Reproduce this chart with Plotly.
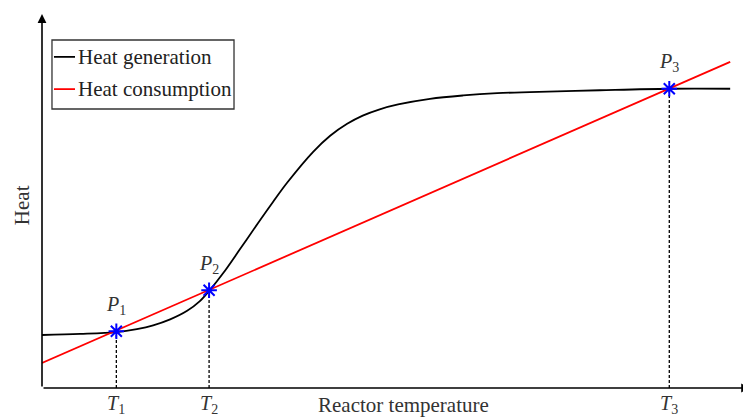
import plotly.graph_objects as go

# Heat generation curve (sigmoid-like)
gen_T = [0.00, 0.54, 1.05, 1.34, 1.57, 1.81, 2.05, 2.23, 2.36, 2.56, 2.80, 3.04,
         3.26, 3.47, 3.83, 4.07, 4.31, 4.53, 4.77, 5.03, 5.48, 5.95, 6.43, 6.89,
         7.88, 8.86, 9.72]
gen_Q = [1.42, 1.45, 1.50, 1.58, 1.68, 1.84, 2.07, 2.33, 2.60, 3.08, 3.73, 4.39,
         4.98, 5.52, 6.33, 6.76, 7.08, 7.30, 7.47, 7.60, 7.75, 7.84, 7.90, 7.93,
         7.98, 8.02, 8.02]

# Heat consumption (straight line)
con_T = [0.00, 9.72]
con_Q = [0.67, 8.74]

# Operating points
pt_T = [1.05, 2.36, 8.86]
pt_Q = [1.52, 2.62, 8.02]
pt_labels = ["<i>P</i><sub>1</sub>", "<i>P</i><sub>2</sub>", "<i>P</i><sub>3</sub>"]
t_labels = ["<i>T</i><sub>1</sub>", "<i>T</i><sub>2</sub>", "<i>T</i><sub>3</sub>"]

FONT = "Liberation Serif"
TXT = "#333333"

fig = go.Figure()

# dashed drop lines
for t, q in zip(pt_T, pt_Q):
    fig.add_trace(go.Scatter(x=[t, t], y=[0, q], mode="lines",
                             line=dict(color="black", width=1.3, dash="3px,2px"),
                             showlegend=False, hoverinfo="skip"))

fig.add_trace(go.Scatter(x=gen_T, y=gen_Q, mode="lines", name="Heat generation",
                         line=dict(color="black", width=1.8, shape="spline", smoothing=1.0),
                         showlegend=False))
fig.add_trace(go.Scatter(x=con_T, y=con_Q, mode="lines", name="Heat consumption",
                         line=dict(color="#ff0000", width=1.8), showlegend=False))
fig.add_trace(go.Scatter(x=pt_T, y=pt_Q, mode="markers",
                         marker=dict(symbol="asterisk-open", size=13, color="#0000ff",
                                     line=dict(color="#0000ff", width=2)),
                         showlegend=False))

annotations = []
# point labels
for t, q, lab in zip(pt_T, pt_Q, pt_labels):
    annotations.append(dict(x=t, y=q, xref="x", yref="y", text=lab, showarrow=False,
                            yshift=26, xanchor="center",
                            font=dict(family=FONT, size=20, color=TXT)))
# T labels
for t, lab in zip(pt_T, t_labels):
    annotations.append(dict(x=t, y=-0.045, xref="x", yref="paper", text=lab,
                            showarrow=False, yanchor="middle", xanchor="center",
                            font=dict(family=FONT, size=20, color=TXT)))
annotations.append(dict(x=0.51, y=-0.045, xref="paper", yref="paper",
                        text="Reactor temperature", showarrow=False, yanchor="middle",
                        xanchor="center", font=dict(family=FONT, size=21, color=TXT)))
annotations.append(dict(x=-0.028, y=0.488, xref="paper", yref="paper", text="Heat",
                        textangle=-90, showarrow=False, xanchor="center", yanchor="middle",
                        font=dict(family=FONT, size=21, color=TXT)))
# axis arrows
annotations.append(dict(x=10.0, y=0, ax=0, ay=0, xref="x", yref="y", axref="x", ayref="y",
                        showarrow=True, arrowhead=2, arrowsize=1.1, arrowwidth=1.6,
                        arrowcolor="black", text=""))
annotations.append(dict(x=0, y=10.02, ax=0, ay=0, xref="x", yref="y", axref="x", ayref="y",
                        showarrow=True, arrowhead=2, arrowsize=1.1, arrowwidth=1.6,
                        arrowcolor="black", text=""))

# manual legend
annotations.append(dict(x=0.048, y=0.883, xref="paper", yref="paper", text="Heat generation",
                        showarrow=False, xanchor="left", yanchor="middle",
                        font=dict(family=FONT, size=21, color="#222")))
annotations.append(dict(x=0.048, y=0.797, xref="paper", yref="paper", text="Heat consumption",
                        showarrow=False, xanchor="left", yanchor="middle",
                        font=dict(family=FONT, size=21, color="#222")))
shapes = [
    dict(type="rect", xref="paper", yref="paper", x0=0.0141, x1=0.2712, y0=0.744, y1=0.928,
         line=dict(color="#333", width=1.3), fillcolor="white", layer="above"),
    dict(type="line", xref="paper", yref="paper", x0=0.0169, x1=0.0466, y0=0.883, y1=0.883,
         line=dict(color="black", width=1.8)),
    dict(type="line", xref="paper", yref="paper", x0=0.0169, x1=0.0466, y0=0.797, y1=0.797,
         line=dict(color="#ff0000", width=1.8)),
]

# page body has an 8px margin: figure is shrunk/shifted to land where the reference is
fig.update_layout(
    width=743, height=410,
    margin=dict(l=34, r=1, t=5, b=30),
    plot_bgcolor="white", paper_bgcolor="white",
    xaxis=dict(range=[0, 10], showgrid=False, zeroline=False, showticklabels=False,
               ticks="", showline=False),
    yaxis=dict(range=[0, 10.05], showgrid=False, zeroline=False, showticklabels=False,
               ticks="", showline=False),
    annotations=annotations, shapes=shapes,
    showlegend=False,
)

fig.write_html("out.html")
